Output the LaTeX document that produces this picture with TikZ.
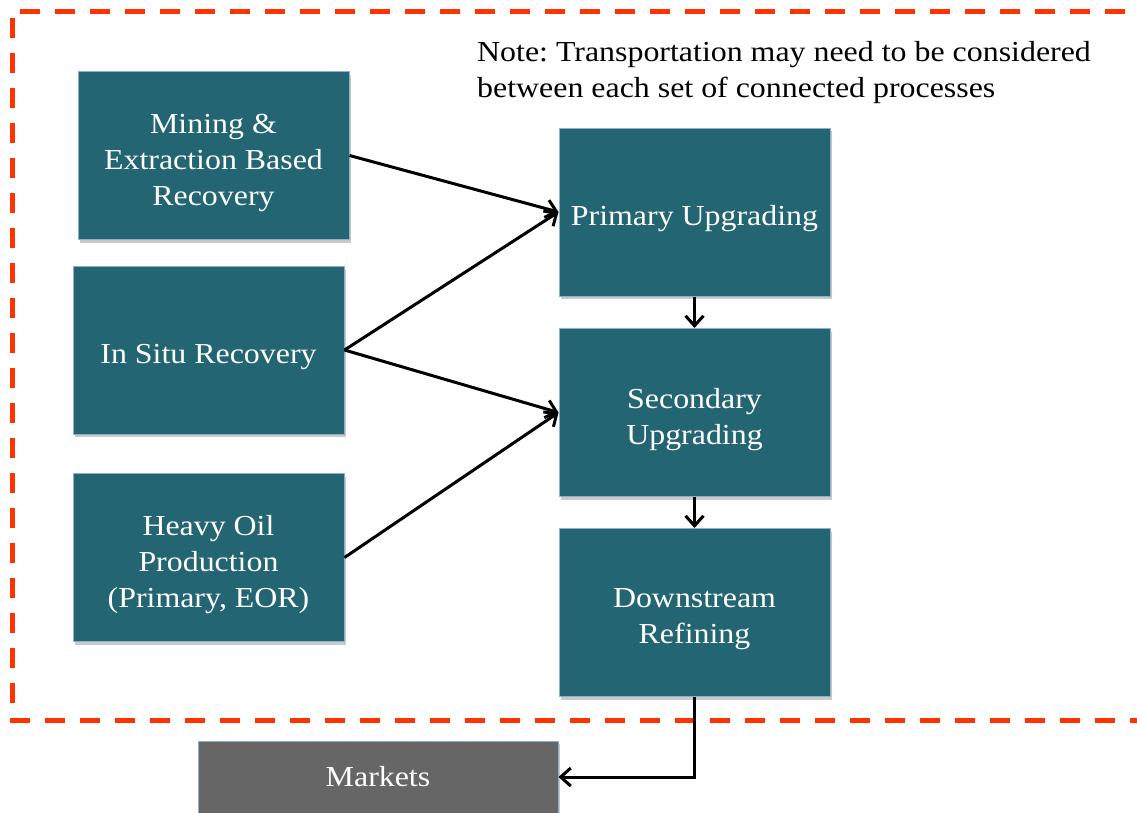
\documentclass[tikz,border=0pt]{standalone}
\usepackage{fontspec}
\setmainfont{Liberation Serif}[FakeStretch=1.1]
\usetikzlibrary{arrows.meta,shadows}
\definecolor{procfill}{HTML}{236573}
\definecolor{procedge}{HTML}{8FB0C8}
\definecolor{mktfill}{HTML}{666666}
\definecolor{zonered}{HTML}{FF3300}
\frenchspacing
\tikzset{
  boxfont/.style={font=\fontsize{29}{36}\selectfont},
  procbox/.style={draw=procedge, line width=1pt, fill=procfill, text=white,
    minimum width=271pt, minimum height=168pt, align=center, inner sep=0pt,
    boxfont,
    drop shadow={shadow xshift=2pt, shadow yshift=-3pt, opacity=0.35, fill=black!60}},
  proctext/.style={text=white, align=center, inner sep=0pt, boxfont, yshift=-7pt},
  mktbox/.style={procbox, fill=mktfill, minimum width=360pt, minimum height=72pt},
  flow/.style={line width=3pt, -{Straight Barb[length=10pt, width=18pt, line width=3pt]}},
  zone/.style={draw=zonered, line width=5pt, dash pattern=on 20pt off 15pt}
}
\begin{document}
\begin{tikzpicture}[x=1pt, y=-1pt]
\useasboundingbox (0,0) rectangle (1137,812);
\clip (0,0) rectangle (1137,812);
\fill[white] (0,0) rectangle (1137,812);

% boundary of the considered processes
\draw[zone] (1150,720) -- (12,720) -- (12,11) -- (1150,11);

\node[anchor=north west, align=left, inner sep=0pt, boxfont] (note) at (477,41)
  {Note: Transportation may need to be considered\\between each set of connected processes};

% recovery processes
\node[procbox, label={[proctext]center:Mining \&\\Extraction Based\\Recovery}] (mining) at (213.5,155.5) {};
\node[procbox, label={[proctext]center:In Situ Recovery}] (insitu) at (208.5,350) {};
\node[procbox, label={[proctext]center:Heavy Oil\\Production\\(Primary, EOR)}] (heavy) at (208.5,557.5) {};

% upgrading and refining
\node[procbox, label={[proctext]center:Primary Upgrading}] (primary) at (694.5,212) {};
\node[procbox, label={[proctext]center:Secondary\\Upgrading}] (secondary) at (694.5,412.5) {};
\node[procbox, label={[proctext]center:Downstream\\Refining}] (downstream) at (694.5,612.5) {};

\node[mktbox] (markets) at (378,777) {Markets};

% connections
\draw[flow] (mining.east) -- (primary.west);
\draw[flow] (insitu.east) -- (primary.west);
\draw[flow] (insitu.east) -- (secondary.west);
\draw[flow] (heavy.east) -- (secondary.west);
\draw[flow] (primary.south) -- (secondary.north);
\draw[flow] (secondary.south) -- (downstream.north);
\draw[flow] (downstream.south) |- (markets.east);
\end{tikzpicture}
\end{document}
